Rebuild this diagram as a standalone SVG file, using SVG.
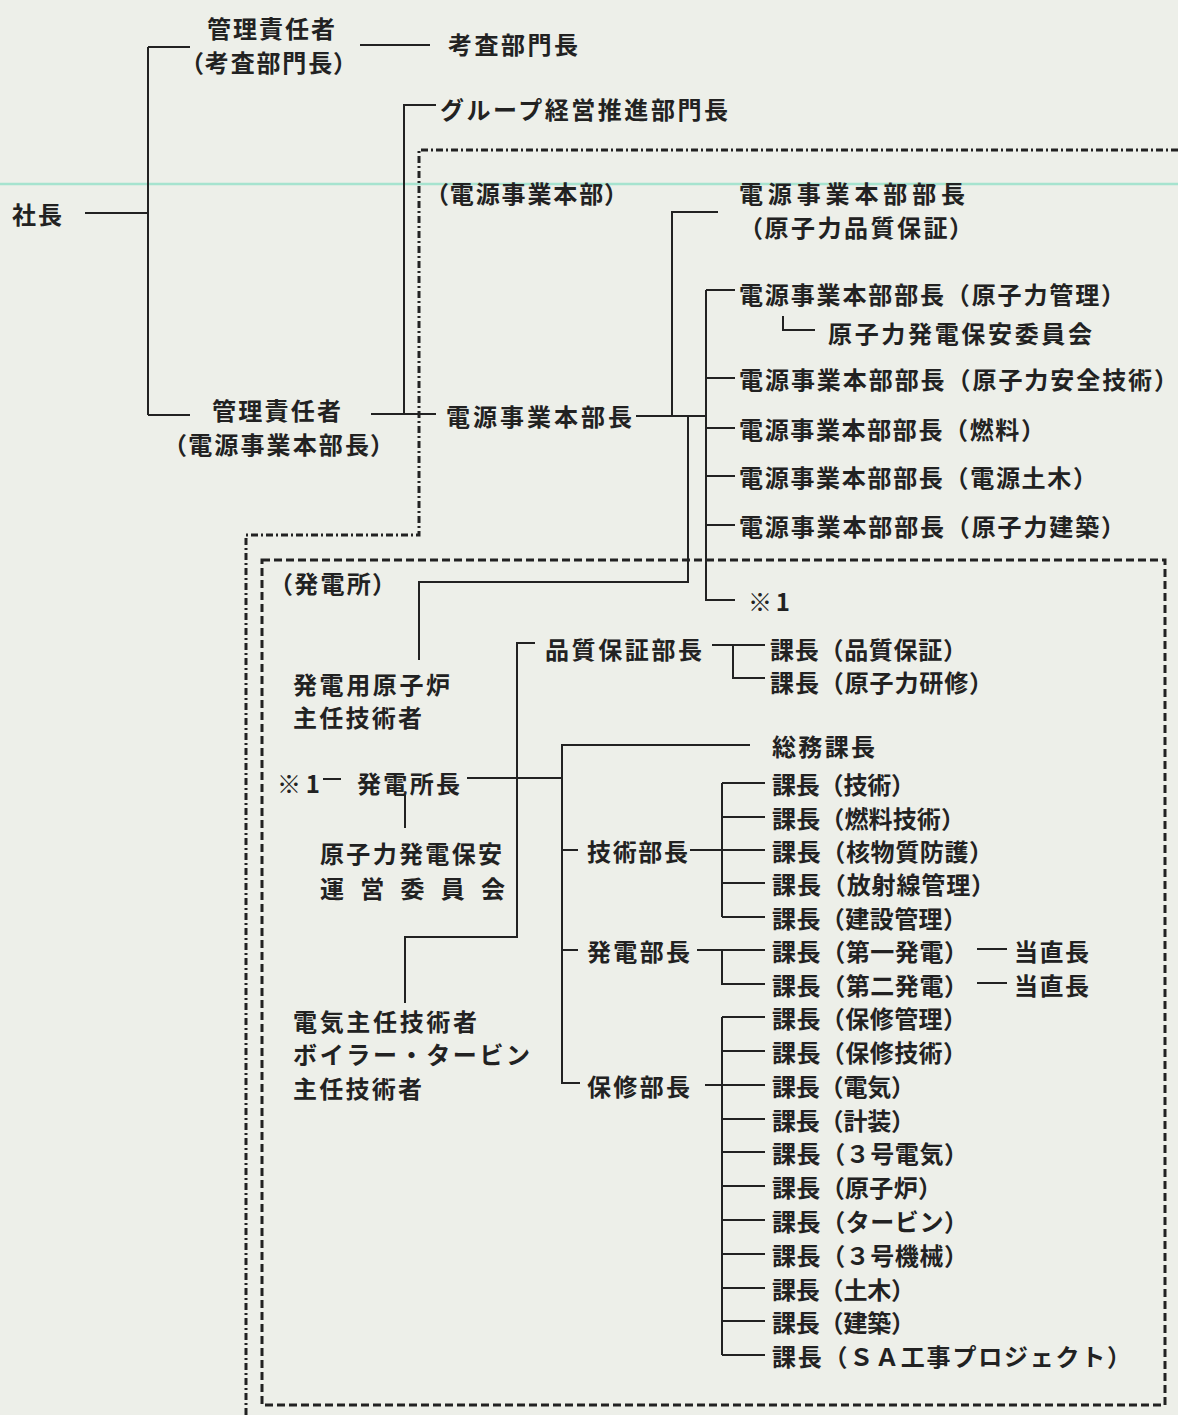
<svg xmlns="http://www.w3.org/2000/svg" width="1178" height="1415" viewBox="0 0 1178 1415">
<style>
text{font-family:"Noto Sans CJK JP","Noto Sans CJK SC",sans-serif;font-size:24px;font-weight:bold;fill:#222;dominant-baseline:central}
.p{font-feature-settings:"palt"}
.ln{fill:none;stroke:#222;stroke-width:2}
.dd{fill:none;stroke:#222;stroke-width:3;stroke-dasharray:7 3 2 3}
.ds{fill:none;stroke:#222;stroke-width:3;stroke-dasharray:8 4}
</style>
<rect width="1178" height="1415" fill="#edefe9"/>
<line x1="0" y1="184" x2="1178" y2="184" stroke="#a6e3cf" stroke-width="2.5"/>
<g id="boundaries">
<path class="dd" d="M1178 150 H419 V535 H246 V1415"/>
<rect class="ds" x="262" y="560" width="903" height="845"/>
</g>
<g id="connectors">
<path class="ln" d="M85 213 H148 M148 47 V415 M148 47 H190 M148 415 H190"/>
<path class="ln" d="M360 45 H430"/>
<path class="ln" d="M371 414 H436 M436 105 H404 V414"/>
<path class="ln" d="M636 416 H706 M672 416 V212 H718 M688 416 V582 H419 V660 M706 290 V600 H735"/>
<path class="ln" d="M706 290 H735 M706 378 H735 M706 428 H735 M706 476 H735 M706 525 H735"/>
<path class="ln" d="M783 316 V330 H815"/>
<path class="ln" d="M323 779 H341 M467 778 H562 M405 795 V828"/>
<path class="ln" d="M535 643 H517 V937 H405 V1003"/>
<path class="ln" d="M712 645 H765 M733 645 V678 H765"/>
<path class="ln" d="M750 745 H562 V1083 H580 M562 850 H578 M562 950 H578"/>
<path class="ln" d="M690 850 H722 M722 783 V917 M722 783 H765 M722 817 H765 M722 850 H765 M722 883 H765 M722 917 H765"/>
<path class="ln" d="M697 950 H765 M722 950 V984 H765 M977 949 H1007 M977 983 H1007"/>
<path class="ln" d="M705 1085 H722 M722 1017 V1355 M722 1017 H765 M722 1051 H765 M722 1085 H765 M722 1119 H765 M722 1152 H765 M722 1186 H765 M722 1220 H765 M722 1254 H765 M722 1288 H765 M722 1321 H765 M722 1355 H765"/>
</g>
<g id="n-president"><text x="12" y="213" textLength="50">社長</text></g>
<g id="n-mgr-audit"><text x="207" y="27" textLength="128">管理責任者</text><text class="p" x="191" y="61" textLength="155">（考査部門長）</text></g>
<g id="n-audit-head"><text x="448" y="43" textLength="130">考査部門長</text></g>
<g id="n-group"><text x="440" y="108" textLength="288">グループ経営推進部門長</text></g>
<g id="n-mgr-power"><text x="212" y="409" textLength="129">管理責任者</text><text class="p" x="174" y="443" textLength="209">（電源事業本部長）</text></g>
<g id="n-power-head"><text x="446" y="415" textLength="186">電源事業本部長</text></g>
<g id="n-power-div"><text class="p" x="436" y="192" textLength="181">（電源事業本部）</text></g>
<g id="n-qa-gm"><text x="739" y="192" textLength="226">電源事業本部部長</text><text class="p" x="750" y="226" textLength="212">（原子力品質保証）</text></g>
<g id="n-nuc-mgmt"><text x="739" y="293" textLength="386">電源事業本部部長（原子力管理）</text></g>
<g id="n-nuc-committee"><text x="828" y="332" textLength="264">原子力発電保安委員会</text></g>
<g id="n-nuc-safety"><text x="739" y="378" textLength="439">電源事業本部部長（原子力安全技術）</text></g>
<g id="n-fuel"><text x="739" y="428" textLength="306">電源事業本部部長（燃料）</text></g>
<g id="n-civil"><text x="739" y="476" textLength="358">電源事業本部部長（電源土木）</text></g>
<g id="n-arch"><text x="739" y="525" textLength="386">電源事業本部部長（原子力建築）</text></g>
<g id="n-ref1"><text x="748" y="600" textLength="42">※1</text></g>
<g id="n-plant"><text class="p" x="280" y="582" textLength="105">（発電所）</text></g>
<g id="n-reactor-eng"><text x="293" y="683" textLength="157">発電用原子炉</text><text x="293" y="716" textLength="129">主任技術者</text></g>
<g id="n-plant-head"><text x="277" y="782" textLength="43">※1</text><text x="357" y="782" textLength="103">発電所長</text></g>
<g id="n-plant-committee"><text x="320" y="852" textLength="182">原子力発電保安</text><text x="320" y="887" textLength="185">運 営 委 員 会</text></g>
<g id="n-qa-head"><text x="545" y="648" textLength="157">品質保証部長</text></g>
<g id="n-qa-sec"><text x="770" y="648" textLength="197">課長（品質保証）</text><text x="770" y="681" textLength="223">課長（原子力研修）</text></g>
<g id="n-general"><text x="772" y="745" textLength="103">総務課長</text></g>
<g id="n-tech-head"><text x="587" y="850" textLength="101">技術部長</text></g>
<g id="n-tech-sec">
<text x="772" y="783" textLength="143">課長（技術）</text>
<text x="772" y="817" textLength="193">課長（燃料技術）</text>
<text x="772" y="850" textLength="221">課長（核物質防護）</text>
<text x="772" y="883" textLength="223">課長（放射線管理）</text>
<text x="772" y="917" textLength="195">課長（建設管理）</text>
</g>
<g id="n-gen-head"><text x="587" y="950" textLength="103">発電部長</text></g>
<g id="n-gen-sec">
<text x="772" y="950" textLength="196">課長（第一発電）</text>
<text x="772" y="984" textLength="196">課長（第二発電）</text>
<text x="1014" y="950" textLength="75">当直長</text>
<text x="1014" y="984" textLength="75">当直長</text>
</g>
<g id="n-maint-head"><text x="587" y="1085" textLength="103">保修部長</text></g>
<g id="n-maint-sec">
<text x="772" y="1017" textLength="195">課長（保修管理）</text>
<text x="772" y="1051" textLength="195">課長（保修技術）</text>
<text x="772" y="1085" textLength="143">課長（電気）</text>
<text x="772" y="1119" textLength="143">課長（計装）</text>
<text x="772" y="1152" textLength="196">課長（３号電気）</text>
<text x="772" y="1186" textLength="170">課長（原子炉）</text>
<text x="772" y="1220" textLength="196">課長（タービン）</text>
<text x="772" y="1254" textLength="196">課長（３号機械）</text>
<text x="772" y="1288" textLength="143">課長（土木）</text>
<text x="772" y="1321" textLength="143">課長（建築）</text>
<text x="772" y="1355" textLength="359">課長（ＳＡ工事プロジェクト）</text>
</g>
<g id="n-elec-eng"><text x="293" y="1020" textLength="184">電気主任技術者</text><text x="293" y="1053" textLength="237">ボイラー・タービン</text><text x="293" y="1087" textLength="129">主任技術者</text></g>
</svg>
